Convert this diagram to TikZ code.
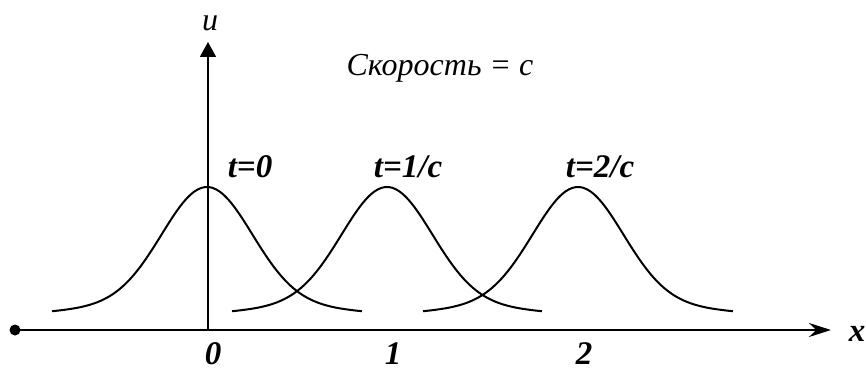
\documentclass[tikz,border=0pt]{standalone}
\usepackage{fontspec}
\setmainfont{Liberation Serif}
\usetikzlibrary{arrows.meta, positioning}
\tikzset{
  every picture/.style={line width=1pt},
  axis/.style={line width=1pt},
  pulse/.style={line width=1pt, smooth, samples=90},
  tlabel/.style={font=\fontsize{16.5}{19}\selectfont\bfseries\itshape},
  note/.style={font=\fontsize{16}{19}\selectfont\itshape},
}

\begin{document}
\begin{tikzpicture}[x=0.5pt, y=-0.5pt]
  \useasboundingbox (0,0) rectangle (866,369);
  % axes
  \coordinate (o) at (208,330);
  \coordinate (xs) at (15,330);
  \coordinate (xe) at (831,330);
  \coordinate (ye) at (208,42);
  \fill (xs) circle (5.5);
  \draw[axis, -{Stealth[length=11pt, width=7pt]}] (xs) -- (xe);
  \draw[line width=0.8pt, -{Triangle[length=7.5pt, width=8pt]}] (o) -- (ye);
  \node[note] (ulab) at (210,23) {u};
  \node[tlabel] (xlab) at (857,334) {x};
  \node[note] (speed) at (440,68) {Скорость = с};
  % pulses at three instants
  \foreach \i/\p/\lx/\t in {0/207/250/{t=0}, 1/387/408/{t=1/c}, 2/578/600/{t=2/c}} {
    \draw[pulse] plot[domain=-1.55:1.55]
      ({\p+100*\x}, {330-143*(0.82*exp(-\x*\x/0.405)+0.18*exp(-\x*\x/7.22))});
    \node[tlabel] (t\i) at (\lx,167) {\t};
    \node[tlabel] (n\i) at (\p+6,354) {\i};
  }
\end{tikzpicture}
\end{document}
